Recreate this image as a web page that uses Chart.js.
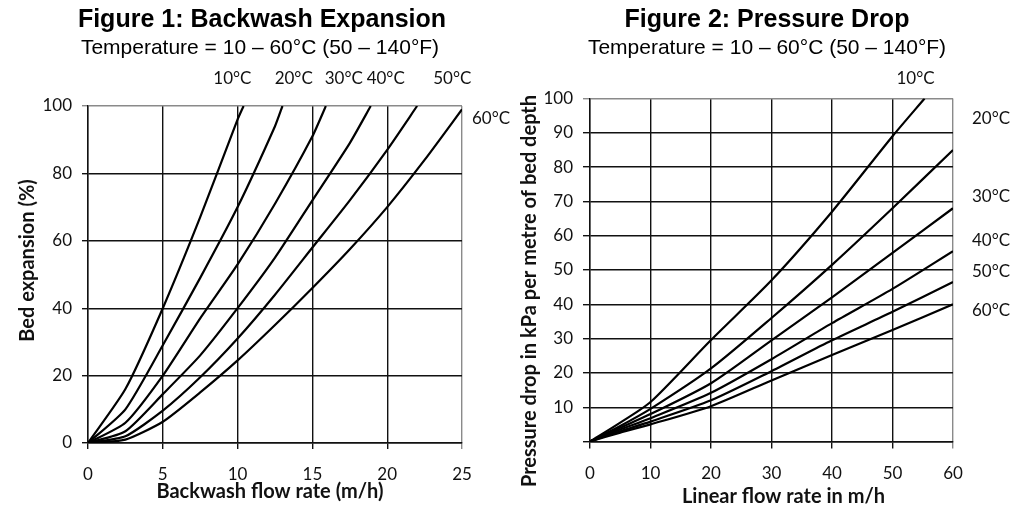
<!DOCTYPE html>
<html lang="en">
<head>
<meta charset="UTF-8">
<title>Backwash Expansion and Pressure Drop</title>
<script src="https://cdn.jsdelivr.net/npm/chart.js"></script>
<style>
    body { margin: 0; background: #fff; width: 1029px; height: 508px; position: relative; overflow: hidden; }
    .panel { position: absolute; top: 0; height: 508px; }
    .panel canvas { position: absolute; left: 0; top: 0; }
    .title, .sub {
        position: absolute; width: 500px; text-align: center; color: #000;
        font-family: "Liberation Sans", Arial, sans-serif; white-space: nowrap;
    }
    .title { font-weight: bold; font-size: 25px; line-height: 28px; top: 4px; }
    .sub { font-size: 21px; line-height: 24px; top: 35px; }
</style>
</head>
<body>

<div class="panel" style="left:0;width:514px">
    <canvas id="expChart" width="514" height="508"></canvas>
    <div class="title" style="left:12px">Figure 1: Backwash Expansion</div>
    <div class="sub" style="left:10px">Temperature = 10 – 60°C (50 – 140°F)</div>
</div>
<div class="panel" style="left:514px;width:515px">
    <canvas id="dropChart" width="515" height="508"></canvas>
    <div class="title" style="left:3px">Figure 2: Pressure Drop</div>
    <div class="sub" style="left:3px">Temperature = 10 – 60°C (50 – 140°F)</div>
</div>

<script>
// temperatures (same for both figures)
const temps = ['10°C', '20°C', '30°C', '40°C', '50°C', '60°C'];

// Figure 1 - backwash flow rate (m/h) vs bed expansion (%)
const bwX10 = [0, 2.5, 5, 7.5, 10, 10.4];
const bwY10 = [0, 16, 40, 67, 96, 100];
const bwX20 = [0, 2.5, 5, 7.5, 10, 12.5, 13.0];
const bwY20 = [0, 10, 29, 49, 70, 94, 100];
const bwX30 = [0, 2.5, 5, 7.5, 10, 12.5, 15, 15.9];
const bwY30 = [0, 6, 20, 37, 53, 71, 91, 100];
const bwX40 = [0, 2.5, 5, 7.5, 10, 12.5, 15, 17.5, 18.9];
const bwY40 = [0, 3.5, 14.5, 26, 40, 55, 72, 89, 100];
const bwX50 = [0, 2.5, 5, 7.5, 10, 12.5, 15, 17.5, 20, 22];
const bwY50 = [0, 2, 9.6, 19.5, 31, 44, 58, 72, 87, 100];
const bwX60 = [0, 2.5, 5, 7.5, 10, 12.5, 15, 17.5, 20, 22.5, 25];
const bwY60 = [0, 1, 6.3, 15, 24.5, 35, 46, 57.5, 70, 84, 99];

// Figure 2 - linear flow rate (m/h) vs pressure drop (kPa/m)
const lfX = [0, 5, 10, 20, 30, 40, 50, 60];
const lfX10 = [0, 5, 10, 20, 30, 40, 50, 55.3];
const pdY10 = [0, 5.5, 11.5, 29.6, 47, 67, 89, 100];
const pdY20 = [0, 4.5, 9.5, 21.3, 36, 51.5, 68, 85];
const pdY30 = [0, 4, 8, 17, 29.5, 42, 55, 68];
const pdY40 = [0, 3.5, 6.8, 14.2, 24, 34.5, 44.5, 55.5];
const pdY50 = [0, 3, 5.8, 12, 20.5, 29.5, 37.8, 46.5];
const pdY60 = [0, 2.6, 5, 10.3, 17.8, 25.2, 32.5, 40];

// axis ticks
const bwTicksX = [0, 5, 10, 15, 20, 25];
const bwTicksY = [0, 20, 40, 60, 80, 100];
const lfTicksX = [0, 10, 20, 30, 40, 50, 60];
const pdTicksY = [0, 10, 20, 30, 40, 50, 60, 70, 80, 90, 100];

Chart.defaults.font.family = 'Lato, "Open Sans", sans-serif';
Chart.defaults.color = '#111';

function pts(xs, ys) {
    return xs.map((x, i) => ({x: x, y: ys[i]}));
}

function series(label, xs, ys, tension) {
    return {
        label: label,
        data: pts(xs, ys),
        borderColor: '#000',
        borderWidth: 2.2,
        pointRadius: 0,
        tension: tension,
        fill: false
    };
}

// labels next to the curves
const tempLabels = {
    id: 'tempLabels',
    afterDatasetsDraw(chart, args, opts) {
        const {ctx, chartArea} = chart;
        const sx = chart.scales.x, sy = chart.scales.y;
        ctx.save();
        ctx.font = '17px Lato';
        ctx.fillStyle = '#111';
        ctx.textBaseline = 'middle';
        opts.items.forEach(it => {
            if (it.side === 'top') {
                ctx.textAlign = 'center';
                ctx.fillText(it.text, sx.getPixelForValue(it.at), chartArea.top - it.gap);
            } else {
                ctx.textAlign = 'left';
                ctx.fillText(it.text, chartArea.right + it.gap, sy.getPixelForValue(it.at));
            }
        });
        ctx.restore();
    }
};

// axis titles, a bit off-centre like the original figures
const axisTitles = {
    id: 'axisTitles',
    afterDraw(chart, args, o) {
        const {ctx, chartArea: a} = chart;
        ctx.save();
        ctx.font = 'bold 20px Lato';
        ctx.fillStyle = '#111';
        ctx.textAlign = 'center';
        ctx.textBaseline = 'middle';
        ctx.fillText(o.x.text, (a.left + a.right) / 2 + o.x.shift, o.x.y);
        ctx.translate(o.y.x, (a.top + a.bottom) / 2 + o.y.shift);
        ctx.rotate(-Math.PI / 2);
        ctx.fillText(o.y.text, 0, 0);
        ctx.restore();
    }
};

function gridColor(max) {
    return c => (c.tick && c.tick.value === max) ? '#8a8a8a' : '#111';
}

function makeOptions(o) {
    return {
        responsive: false,
        animation: false,
        layout: {padding: o.padding},
        plugins: {
            legend: {display: false},
            tooltip: {enabled: false},
            tempLabels: {items: o.labels},
            axisTitles: o.titles
        },
        scales: {
            x: {
                type: 'linear',
                min: o.xTicks[0],
                max: o.xTicks[o.xTicks.length - 1],
                afterBuildTicks: a => { a.ticks = o.xTicks.map(v => ({value: v})); },
                afterFit: a => { a.height = o.xHeight; },
                grid: {color: gridColor(o.xTicks[o.xTicks.length - 1]), lineWidth: 1.4, tickLength: o.tickLen},
                border: {color: '#111', width: 1.4},
                ticks: {font: {size: 17}, padding: o.xPad, maxRotation: 0}
            },
            y: {
                type: 'linear',
                min: o.yTicks[0],
                max: o.yTicks[o.yTicks.length - 1],
                afterBuildTicks: a => { a.ticks = o.yTicks.map(v => ({value: v})); },
                afterFit: a => { a.width = o.yWidth; },
                grid: {color: gridColor(o.yTicks[o.yTicks.length - 1]), lineWidth: 1.4, tickLength: o.tickLen},
                border: {color: '#111', width: 1.4},
                ticks: {
                    font: {size: 17}, padding: 10,
                    callback: v => (o.hideZero && v === 0) ? '' : v
                }
            }
        }
    };
}

new Chart(document.getElementById('expChart'), {
    type: 'line',
    data: {
        datasets: [
            series(temps[0], bwX10, bwY10, 0.2),
            series(temps[1], bwX20, bwY20, 0.2),
            series(temps[2], bwX30, bwY30, 0.2),
            series(temps[3], bwX40, bwY40, 0.2),
            series(temps[4], bwX50, bwY50, 0.2),
            series(temps[5], bwX60, bwY60, 0.2)
        ]
    },
    options: makeOptions({
        padding: {left: 0, top: 106, right: 52, bottom: 0},
        xTicks: bwTicksX, yTicks: bwTicksY,
        xHeight: 65, yWidth: 88, tickLen: 6, xPad: 15,
        hideZero: false,
        titles: {
            x: {text: 'Backwash flow rate (m/h)', y: 492, shift: -5},
            y: {text: 'Bed expansion (%)', x: 27.5, shift: -14}
        },
        labels: [
            {text: temps[0], side: 'top', at: 9.65, gap: 27},
            {text: temps[1], side: 'top', at: 13.75, gap: 27},
            {text: temps[2], side: 'top', at: 17.1, gap: 27},
            {text: temps[3], side: 'top', at: 19.9, gap: 27},
            {text: temps[4], side: 'top', at: 24.35, gap: 27},
            {text: temps[5], side: 'right', at: 96.2, gap: 10}
        ]
    }),
    plugins: [tempLabels, axisTitles]
});

new Chart(document.getElementById('dropChart'), {
    type: 'line',
    data: {
        datasets: [
            series(temps[0], lfX10, pdY10, 0.25),
            series(temps[1], lfX, pdY20, 0.25),
            series(temps[2], lfX, pdY30, 0.25),
            series(temps[3], lfX, pdY40, 0.25),
            series(temps[4], lfX, pdY50, 0.25),
            series(temps[5], lfX, pdY60, 0.25)
        ]
    },
    options: makeOptions({
        padding: {left: 0, top: 98.5, right: 76, bottom: 0},
        xTicks: lfTicksX, yTicks: pdTicksY,
        xHeight: 66.5, yWidth: 76, tickLen: 7, xPad: 15,
        hideZero: true,
        titles: {
            x: {text: 'Linear flow rate in m/h', y: 497, shift: 12},
            y: {text: 'Pressure drop in kPa per metre of bed depth', x: 16, shift: 21}
        },
        labels: [
            {text: temps[0], side: 'top', at: 53.8, gap: 19.5},
            {text: temps[1], side: 'right', at: 94.3, gap: 19},
            {text: temps[2], side: 'right', at: 71.4, gap: 19},
            {text: temps[3], side: 'right', at: 58.7, gap: 19},
            {text: temps[4], side: 'right', at: 49.5, gap: 19},
            {text: temps[5], side: 'right', at: 38.3, gap: 19}
        ]
    }),
    plugins: [tempLabels, axisTitles]
});
</script>
</body>
</html>
